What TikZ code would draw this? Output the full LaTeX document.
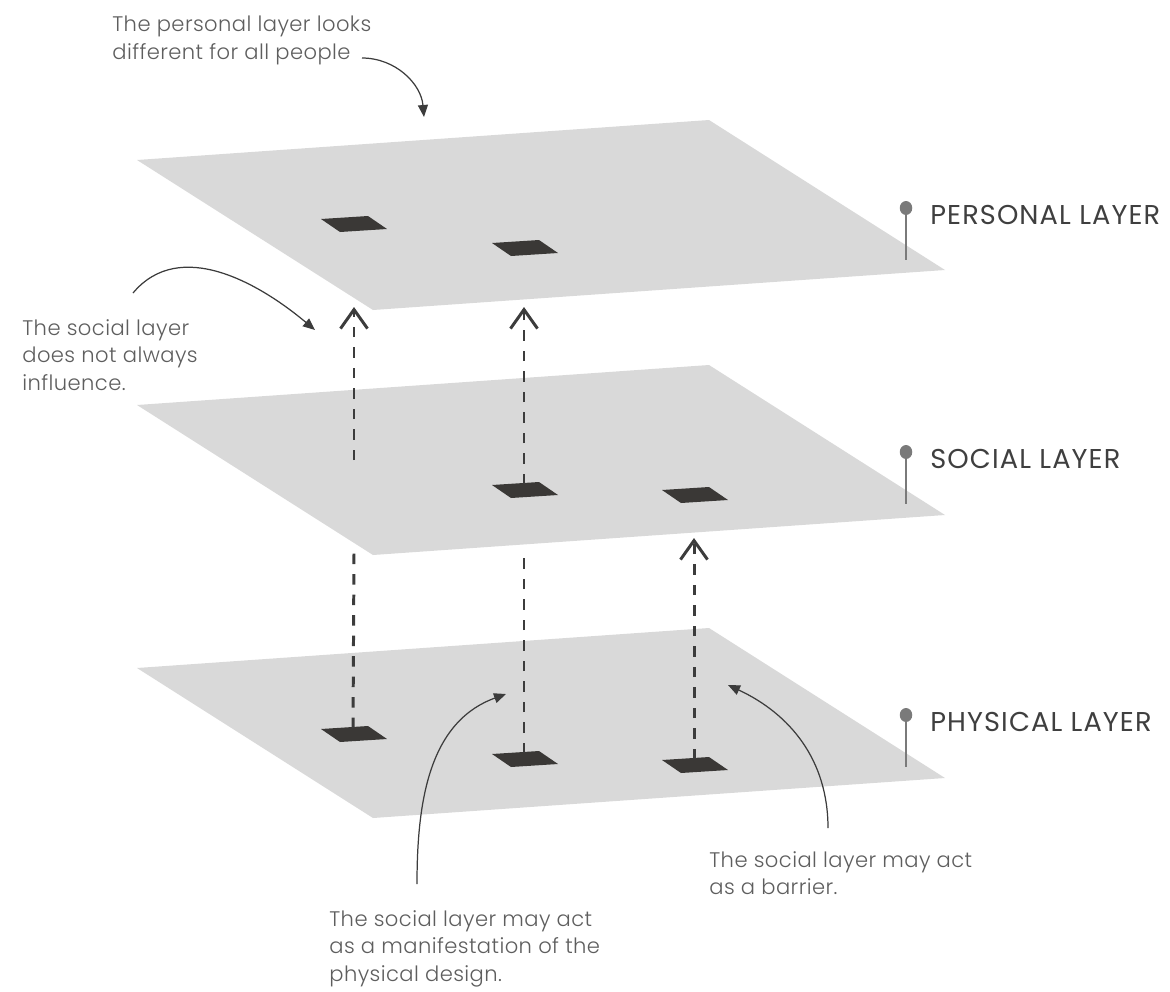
\documentclass[tikz,border=0pt]{standalone}
\usepackage{fontspec}
\setmainfont{Poppins}
\IfFontExistsTF{Poppins Light}{\newfontfamily\notefont{Poppins Light}[LetterSpace=2]}{\newfontfamily\notefont{Poppins}[LetterSpace=2]}
\newfontfamily\lblfont{Poppins}[LetterSpace=4]
\usetikzlibrary{arrows.meta}

\definecolor{planegray}{HTML}{D9D9D9}
\definecolor{tiledark}{HTML}{3A3836}
\definecolor{inkdark}{HTML}{3C3C3C}
\definecolor{textgray}{HTML}{5E5E5E}
\definecolor{labelgray}{HTML}{3F3F3F}
\definecolor{pingray}{HTML}{7A7A7A}

\begin{document}
\begin{tikzpicture}[
  x=0.02cm, y=-0.02cm,
  plane/.style={fill=planegray},
  tile/.style={fill=tiledark},
  link/.style={draw=inkdark, line width=1.7pt, dash pattern=on 0.21cm off 0.2cm},
  linkarr/.style={link, -{Straight Barb[length=3.8mm, width=5.4mm]}},
  note/.style={font=\notefont\fontsize{12}{15.8}\selectfont, text=textgray,
               align=left, inner sep=0pt, anchor=north west},
  lbl/.style={font=\lblfont\fontsize{15.5}{17}\selectfont, text=labelgray,
              anchor=base west, inner sep=0pt},
  pin/.style={draw=pingray, line width=1.4pt},
  ann/.style={draw=inkdark, line width=0.7pt, -{Triangle[length=2.4mm, width=2mm]}}
]
\useasboundingbox (0,0) rectangle (1170,991);
% ----- the three layers, top to bottom -----
\foreach \dy in {0,245,508}{
  \fill[plane] (137,{160+\dy}) -- ++(572,-40) -- ++(236,150) -- ++(-572,40) -- cycle;
}
% ----- dark tiles on each layer -----
\foreach \nm/\tx/\ty in {pers-a/321/219, pers-b/492/243,
                         soc-a/492/485, soc-b/662/490,
                         phys-a/321/729, phys-b/492/754, phys-c/662/760}{
  \fill[tile] (\tx,\ty) -- ++(47,-3) -- ++(19,13) -- ++(-47,3) -- cycle;
  \coordinate (\nm) at ({\tx+32},{\ty-1});
}
% ----- free ends of the dashed links -----
\coordinate (soc-start-a) at (354,460);
\coordinate (pers-gap-a)  at (354,307);
\coordinate (soc-gap-a)   at (354,553);
\coordinate (soc-gap-c)   at (694,538);
% ----- dashed links between layers -----
\draw[linkarr] (soc-start-a) -- (pers-gap-a);
\draw[linkarr] (soc-a) -- (soc-a |- pers-gap-a);
\draw[link]    (phys-a) -- (soc-gap-a);
\draw[link]    (phys-b) -- (phys-b |- soc-gap-a);
\draw[linkarr] (phys-c) -- (soc-gap-c);
% ----- layer labels with pins -----
\foreach \nm/\py/\txt in {pers/208/PERSONAL LAYER, soc/452/SOCIAL LAYER, phys/715/PHYSICAL LAYER}{
  \draw[pin] (906,\py) -- ++(0,52);
  \fill[pingray] (906,\py) ellipse (0.125cm and 0.14cm);
  \node[lbl] (lbl-\nm) at (930,{\py+16}) {\txt};
}
% ----- annotations -----
\node[note] (note-pers) at (112,16)  {The personal layer looks\\different for all people};
\node[note] (note-soc)  at (22,319)  {The social layer\\does not always\\influence.};
\node[note] (note-man)  at (329,910) {The social layer may act\\as a manifestation of the\\physical design.};
\node[note] (note-bar)  at (709,851) {The social layer may act\\as a barrier.};
\coordinate (src-pers) at (362,58);  \coordinate (tgt-pers) at (424,117);
\coordinate (src-soc)  at (133,293); \coordinate (tgt-soc)  at (315,330);
\coordinate (src-man)  at (417,884); \coordinate (tgt-man)  at (506,694);
\coordinate (src-bar)  at (828,828); \coordinate (tgt-bar)  at (728,685);
\draw[ann] (src-pers) to[out=0, in=95] (tgt-pers);
\draw[ann] (src-soc) to[out=50, in=140] (tgt-soc);
\draw[ann] (src-man) to[out=90, in=200] (tgt-man);
\draw[ann] (src-bar) to[out=90, in=-25] (tgt-bar);
\end{tikzpicture}
\end{document}
